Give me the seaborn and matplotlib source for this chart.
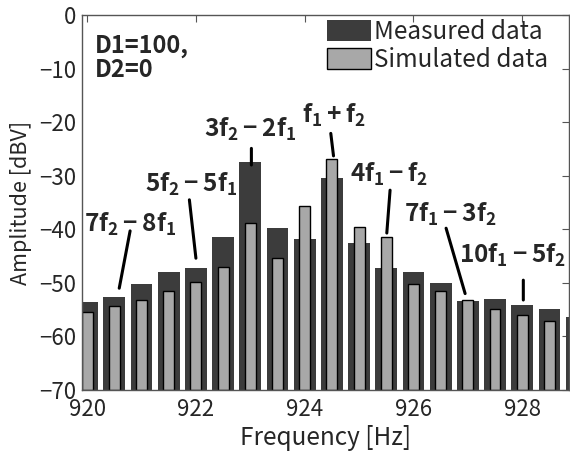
import matplotlib
matplotlib.use("Agg")
import matplotlib.pyplot as plt
from matplotlib.patches import Patch
import pandas as pd
import seaborn as sns

# ---------------- data ----------------
freq_measured = [920.0, 920.5, 921.0, 921.5, 922.0, 922.5, 923.0, 923.5, 924.0,
                 924.5, 925.0, 925.5, 926.0, 926.5, 927.0, 927.5, 928.0, 928.5, 929.0]
amp_measured = [-53.5, -52.6, -50.2, -47.9, -47.2, -41.4, -27.5, -39.7, -41.8,
                -30.5, -42.5, -47.2, -47.9, -50.1, -53.4, -53.1, -54.2, -54.9, -56.3]
freq_simulated = [920.0, 920.5, 921.0, 921.5, 922.0, 922.5, 923.0, 923.5, 924.0,
                  924.5, 925.0, 925.5, 926.0, 926.5, 927.0, 927.5, 928.0, 928.5]
amp_simulated = [-55.5, -54.4, -53.2, -51.6, -49.8, -47.0, -38.9, -45.4, -35.7,
                 -26.9, -39.5, -41.5, -50.3, -51.6, -53.2, -54.8, -56.0, -57.1]
series_labels = ["Measured data", "Simulated data"]
x_ticks = [920, 922, 924, 926, 928]
y_ticks = [0, -10, -20, -30, -40, -50, -60, -70]

annot_texts = [r"$\mathbf{7f_2-8f_1}$", r"$\mathbf{5f_2-5f_1}$",
               r"$\mathbf{3f_2-2f_1}$", r"$\mathbf{f_1+f_2}$",
               r"$\mathbf{4f_1-f_2}$", r"$\mathbf{7f_1-3f_2}$",
               r"$\mathbf{10f_1-5f_2}$"]
annot_text_xy = [(920.79, -39.0), (921.92, -31.7), (923.0, -21.3), (924.54, -18.7),
                 (925.56, -29.7), (926.68, -37.3), (927.82, -44.8)]
annot_line_start = [(920.79, -40.3), (921.88, -34.5), (923.02, -24.9), (924.48, -22.1),
                    (925.57, -32.7), (926.60, -39.8), (928.02, -49.5)]
annot_line_end = [(920.59, -51.0), (922.00, -45.4), (923.02, -28.0), (924.53, -26.3),
                  (925.51, -40.7), (926.95, -52.0), (928.02, -53.2)]

# ---------------- style ----------------
DARK = "#3c3c3c"
LIGHT = "#a8a8a8"
BASE = -70
FS_TICK = 16
FS_LABEL = 17.5

sns.set_theme(style="white")
plt.rcParams["font.family"] = ["Noto Sans CJK JP", "DejaVu Sans"]
plt.rcParams["mathtext.fontset"] = "custom"
plt.rcParams["mathtext.rm"] = "Noto Sans CJK JP"
plt.rcParams["mathtext.bf"] = "Noto Sans CJK JP:bold"
plt.rcParams["mathtext.it"] = "Noto Sans CJK JP"

fig = plt.figure(figsize=(5.7, 4.55), dpi=100)
ax = fig.add_axes([81.7 / 570, 1 - 390 / 455, (569 - 81.7) / 570, 375 / 455])

df_m = pd.DataFrame({"freq": freq_measured, "amp": amp_measured})
df_s = pd.DataFrame({"freq": freq_simulated, "amp": amp_simulated})

sns.barplot(data=df_m, x="freq", y="amp", native_scale=True, width=0.8,
            color=DARK, saturation=1, errorbar=None, linewidth=0, ax=ax)
sns.barplot(data=df_s, x="freq", y="amp", native_scale=True, width=0.4,
            color=LIGHT, saturation=1, errorbar=None, edgecolor="black",
            linewidth=1.0, ax=ax)

# bars rise from the bottom of the axis (-70 dBV)
for p in ax.patches:
    top = p.get_y() + p.get_height()
    p.set_y(BASE)
    p.set_height(top - BASE)

ax.set_xlim(919.9, 928.86)
ax.set_ylim(-70, 0)
ax.set_xticks(x_ticks)
ax.set_yticks(y_ticks)
ax.set_xticklabels([str(t) for t in x_ticks])
ax.set_yticklabels([f"{t}".replace("-", "\u2212") for t in y_ticks])
ax.tick_params(direction="in", top=True, right=True, length=5, width=0.8,
               labelsize=FS_TICK, color="#555555")
ax.tick_params(axis="x", pad=6)
ax.tick_params(axis="y", pad=4)
for s in ax.spines.values():
    s.set_color("#555555")
    s.set_linewidth(1.0)
ax.set_xlabel("Frequency [Hz]", fontsize=FS_LABEL, labelpad=3)
ax.set_ylabel("Amplitude [dBV]", fontsize=15.5, labelpad=5)

handles = [Patch(facecolor=DARK, edgecolor="none"),
           Patch(facecolor=LIGHT, edgecolor="black", linewidth=1.0)]
ax.legend(handles, series_labels, loc="upper right", bbox_to_anchor=(0.958, 0.99),
          frameon=False, fontsize=FS_LABEL, handlelength=1.85, handleheight=0.95,
          handletextpad=0.12, labelspacing=0.1, borderpad=0, borderaxespad=0)

ax.text(0.027, 0.95, "D1=100,\nD2=0", transform=ax.transAxes, fontsize=17,
        fontweight="bold", va="top", ha="left", linespacing=1.0)

for txt, txy, ls, le in zip(annot_texts, annot_text_xy, annot_line_start, annot_line_end):
    ax.text(txy[0], txy[1], txt, ha="center", va="center", fontsize=17.5)
    ax.annotate("", xy=le, xytext=ls,
                arrowprops=dict(arrowstyle="-", lw=2.2, color="black",
                                shrinkA=0, shrinkB=0))

fig.savefig("out.png", dpi=100)
